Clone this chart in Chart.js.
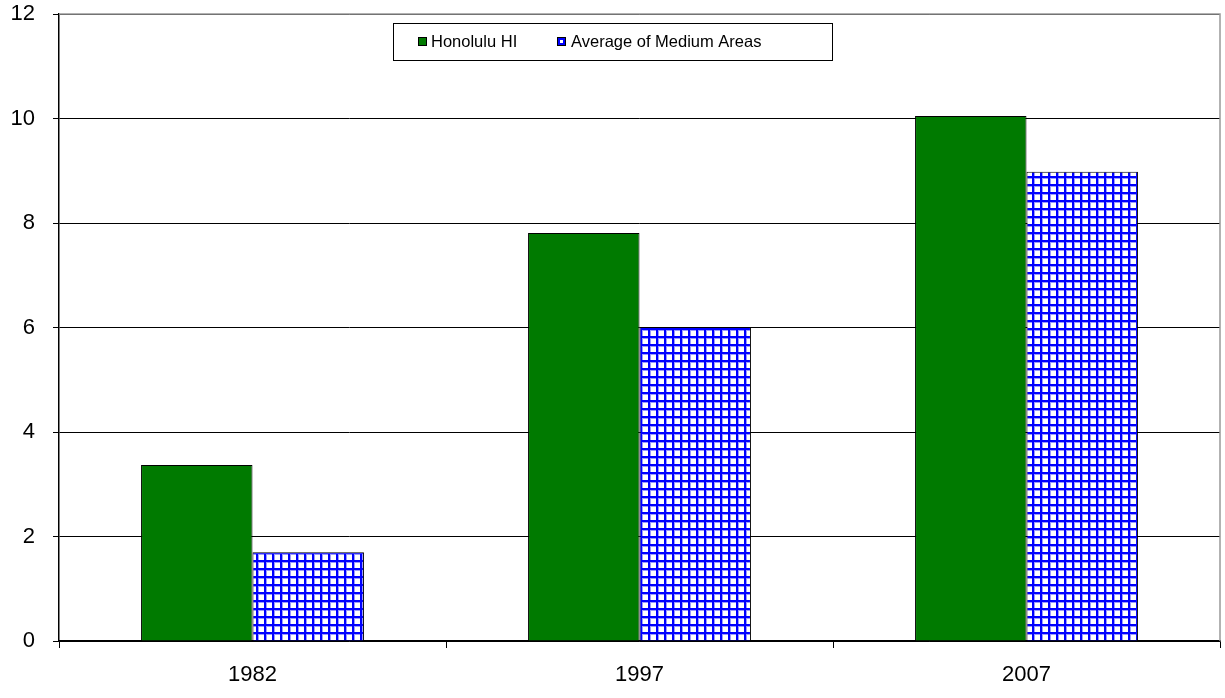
<!DOCTYPE html>
<html>
<head>
<meta charset="utf-8">
<script src="https://cdn.jsdelivr.net/npm/chart.js@4"></script>
<style>
  html, body { margin: 0; padding: 0; background: #fff; }
  #wrap { width: 1225px; height: 698px; }
</style>
</head>
<body>
<div id="wrap"><canvas id="chart" width="1225" height="698"></canvas></div>
<script>
// data
const years = ['1982', '1997', '2007'];
const honolulu = [3.37, 7.81, 10.05];
const mediumAvg = [1.70, 6.01, 8.98];
const seriesNames = ['Honolulu HI', 'Average of Medium Areas'];

const FONT = "'Liberation Sans', Arial, sans-serif";

// blue checkered fill
function makeGrid() {
    const c = document.createElement('canvas');
    c.width = 8; c.height = 8;
    const g = c.getContext('2d');
    g.fillStyle = '#ffffff';
    g.fillRect(0, 0, 8, 8);
    g.fillStyle = '#9a9aff';
    g.fillRect(2, 0, 1, 8);
    g.fillRect(0, 2, 8, 1);
    g.fillStyle = '#0000ff';
    g.fillRect(0, 0, 2, 8);
    g.fillRect(0, 0, 8, 2);
    return g.createPattern(c, 'repeat');
}
const gridFill = makeGrid();

// legend box inside the plot + grey frame on top/right
const extras = {
    id: 'extras',
    beforeDatasetsDraw(chart) {
        const a = chart.chartArea, ctx = chart.ctx;
        ctx.save();
        ctx.strokeStyle = '#999';
        ctx.lineWidth = 1.5;
        ctx.beginPath();
        ctx.moveTo(a.left, a.top);
        ctx.lineTo(a.right, a.top);
        ctx.lineTo(a.right, a.bottom);
        ctx.stroke();
        ctx.restore();
    },
    afterDraw(chart) {
        const ctx = chart.ctx;
        ctx.save();
        ctx.fillStyle = '#fff';
        ctx.fillRect(393, 23, 439, 37);
        ctx.strokeStyle = '#000';
        ctx.lineWidth = 1;
        ctx.strokeRect(393.5, 23.5, 439, 37);
        ctx.font = '16.5px ' + FONT;
        ctx.textBaseline = 'middle';
        ctx.fillStyle = '#007a00';
        ctx.fillRect(418, 37, 9, 9);
        ctx.strokeRect(418.5, 37.5, 8, 8);
        ctx.fillStyle = '#000';
        ctx.fillText(seriesNames[0], 431, 42);
        ctx.fillStyle = '#fff';
        ctx.fillRect(557, 37, 9, 9);
        ctx.strokeStyle = '#0000ff';
        ctx.lineWidth = 2;
        ctx.strokeRect(559, 39, 5, 5);
        ctx.strokeStyle = '#000';
        ctx.lineWidth = 1;
        ctx.strokeRect(557.5, 37.5, 8, 8);
        ctx.fillStyle = '#000';
        ctx.fillText(seriesNames[1], 571, 42);
        ctx.restore();
    }
};

new Chart(document.getElementById('chart'), {
    type: 'bar',
    data: {
        labels: years,
        datasets: [{
            label: seriesNames[0],
            data: honolulu,
            backgroundColor: '#007a00',
            borderColor: '#000',
            borderWidth: 1
        }, {
            label: seriesNames[1],
            data: mediumAvg,
            backgroundColor: gridFill,
            borderColor: '#000',
            borderWidth: 1
        }]
    },
    options: {
        responsive: false,
        animation: false,
        layout: { padding: { top: 14, right: 5, left: 0, bottom: 0 } },
        plugins: { legend: { display: false }, tooltip: { enabled: false } },
        datasets: { bar: { categoryPercentage: 0.576, barPercentage: 1 } },
        scales: {
            x: {
                offset: true,
                grid: { offset: true, drawOnChartArea: false, color: '#000', tickLength: 7 },
                border: { color: '#000', width: 1.5 },
                ticks: { color: '#000', font: { family: FONT, size: 22 }, padding: 14 },
                afterFit(s) { s.height = 57; s.paddingLeft = 0; s.paddingRight = 0; }
            },
            y: {
                min: 0, max: 12,
                ticks: { stepSize: 2, color: '#000', font: { family: FONT, size: 22 }, padding: 18 },
                grid: { color: '#000', lineWidth: 1, tickLength: 6 },
                border: { color: '#000', width: 1.5 },
                afterFit(s) { s.width = 59; s.paddingTop = 0; s.paddingBottom = 0; }
            }
        }
    },
    plugins: [extras]
});
</script>
</body>
</html>
